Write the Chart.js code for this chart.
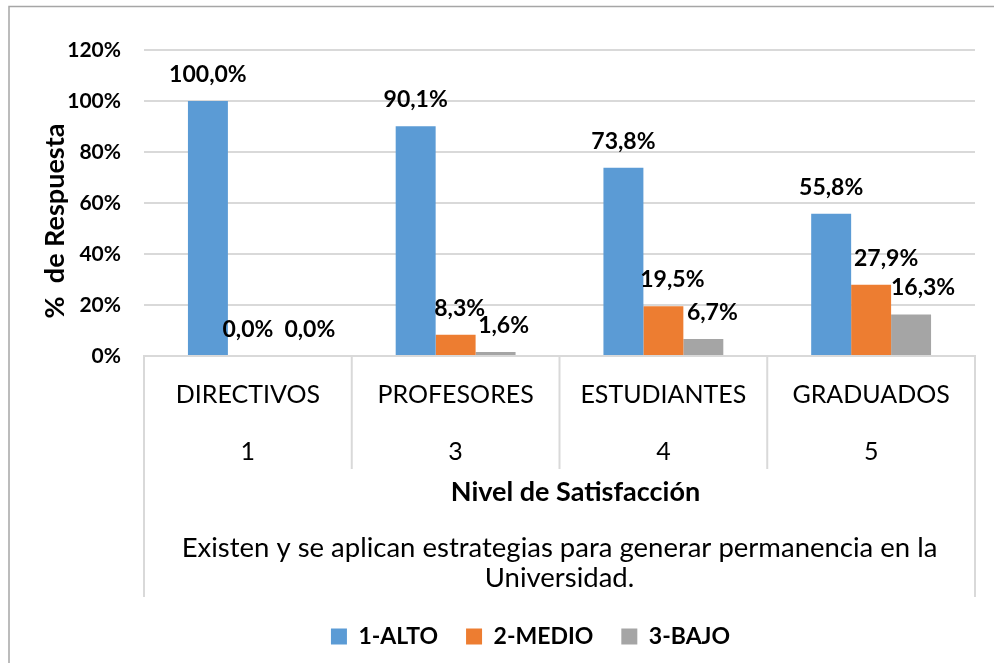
<!DOCTYPE html>
<html><head><meta charset="utf-8">
<script src="https://cdn.jsdelivr.net/npm/chart.js@4.4.1/dist/chart.umd.min.js"></script>
<style>html,body{margin:0;padding:0;background:#fff}canvas{display:block}</style>
</head><body>
<canvas id="c" width="994" height="663"></canvas>
<script>
// ---- data ----
const groupNames = ["DIRECTIVOS", "PROFESORES", "ESTUDIANTES", "GRADUADOS"];
const groupCodes = ["1", "3", "4", "5"];
const seriesNames = ["1-ALTO", "2-MEDIO", "3-BAJO"];
const alto  = [100.0, 90.1, 73.8, 55.8];
const medio = [0.0, 8.3, 19.5, 27.9];
const bajo  = [0.0, 1.6, 6.7, 16.3];
const yTickValues = [0, 20, 40, 60, 80, 100, 120];
const xAxisTitle = "Nivel de Satisfacción";
const yAxisTitle = "%  de Respuesta";
const outerLabelLines = ["Existen y se aplican estrategias para generar permanencia en la", "Universidad."];

// ---- styles ----
const FONT = "Lato, 'Open Sans', sans-serif";
const colors = ["#5B9BD5", "#ED7D31", "#A5A5A5"];
const gridColor = "#D9D9D9";
// horizontal nudges of the value labels (label placement style, as in the original)
const labelShift = [[0, 0, 0, 0], [0, 4, 9, 15], [22, 8, 9, 12]];

const fmt = v => v.toFixed(1).replace('.', ',') + '%';

const decorPlugin = {
  id: 'decor',
  beforeDraw(chart) {
    const ctx = chart.ctx;
    ctx.save();
    ctx.fillStyle = '#fff';
    ctx.fillRect(0, 0, chart.width, chart.height);
    ctx.strokeStyle = '#A6A6A6';
    ctx.lineWidth = 1.5;
    ctx.beginPath();
    ctx.moveTo(9, chart.height);
    ctx.lineTo(9, 6.5);
    ctx.lineTo(chart.width, 6.5);
    ctx.stroke();
    ctx.restore();
  },
  afterLayout(chart) {
    const lg = chart.legend;
    if (lg) { const s = 43; lg.left += s; lg.right += s; }
  },
  afterDraw(chart) {
    const ctx = chart.ctx;
    const area = chart.chartArea;
    const xs = chart.scales.x;
    const n = groupNames.length;
    ctx.save();
    ctx.strokeStyle = gridColor;
    ctx.lineWidth = 2;
    for (let i = 0; i <= n; i++) {
      const x = area.left + i * (area.right - area.left) / n;
      const yEnd = (i === 0 || i === n) ? xs.bottom : area.bottom + 113;
      ctx.beginPath();
      ctx.moveTo(x, area.bottom);
      ctx.lineTo(x, yEnd);
      ctx.stroke();
    }
    const cx = (area.left + area.right) / 2;
    ctx.fillStyle = '#000';
    ctx.textAlign = 'center';
    ctx.textBaseline = 'middle';
    // x axis title
    ctx.font = "bold 27px " + FONT;
    ctx.fillText(xAxisTitle, cx + 16, xs.bottom - 105);
    // outer category level
    ctx.font = "27.5px " + FONT;
    ctx.fillText(outerLabelLines[0], cx, xs.bottom - 49);
    ctx.fillText(outerLabelLines[1], cx, xs.bottom - 19);
    // y axis title
    ctx.font = "bold 27px " + FONT;
    ctx.translate(55, (area.top + area.bottom) / 2 + 18);
    ctx.rotate(-Math.PI / 2);
    ctx.fillText(yAxisTitle, 0, 0);
    ctx.restore();
  },
  afterDatasetsDraw(chart) {
    const ctx = chart.ctx;
    ctx.save();
    ctx.fillStyle = '#000';
    ctx.font = "bold 23px " + FONT;
    ctx.textAlign = 'center';
    ctx.textBaseline = 'alphabetic';
    chart.data.datasets.forEach((ds, di) => {
      const meta = chart.getDatasetMeta(di);
      meta.data.forEach((bar, i) => {
        ctx.fillText(fmt(ds.data[i]), bar.x + labelShift[di][i], bar.y - 19);
      });
    });
    ctx.restore();
  }
};

new Chart(document.getElementById('c'), {
  type: 'bar',
  data: {
    labels: groupNames.map((g, i) => [g, groupCodes[i]]),
    datasets: [
      { label: seriesNames[0], data: alto,  backgroundColor: colors[0] },
      { label: seriesNames[1], data: medio, backgroundColor: colors[1] },
      { label: seriesNames[2], data: bajo,  backgroundColor: colors[2] }
    ]
  },
  options: {
    responsive: false,
    animation: false,
    events: [],
    layout: { padding: { left: 0, right: 19, top: 50, bottom: 5 } },
    datasets: { bar: { categoryPercentage: 0.577, barPercentage: 1.0 } },
    plugins: {
      legend: {
        position: 'bottom',
        labels: {
          boxWidth: 16, boxHeight: 16, padding: 28, color: '#000',
          font: { family: FONT, size: 23, weight: 'bold' }
        }
      },
      tooltip: { enabled: false },
      title: { display: false }
    },
    scales: {
      x: {
        grid: { display: false, drawTicks: false },
        border: { display: true, color: gridColor, width: 2 },
        afterFit(scale) { scale.height += 107; },
        ticks: {
          color: '#000', padding: 10, maxRotation: 0, autoSkip: false,
          font: { family: FONT, size: 25, lineHeight: '57px' }
        },
        title: { display: false }
      },
      y: {
        min: 0, max: 120,
        afterBuildTicks(scale) { scale.ticks = yTickValues.map(v => ({ value: v })); },
        afterFit(scale) { scale.width = 144; },
        grid: { color: gridColor, lineWidth: 2, drawTicks: false },
        border: { display: false },
        ticks: {
          color: '#000', padding: 23,
          font: { family: FONT, size: 21, weight: 'bold' },
          callback: v => v + '%'
        },
        title: { display: false }
      }
    }
  },
  plugins: [decorPlugin]
});
</script>
</body></html>
